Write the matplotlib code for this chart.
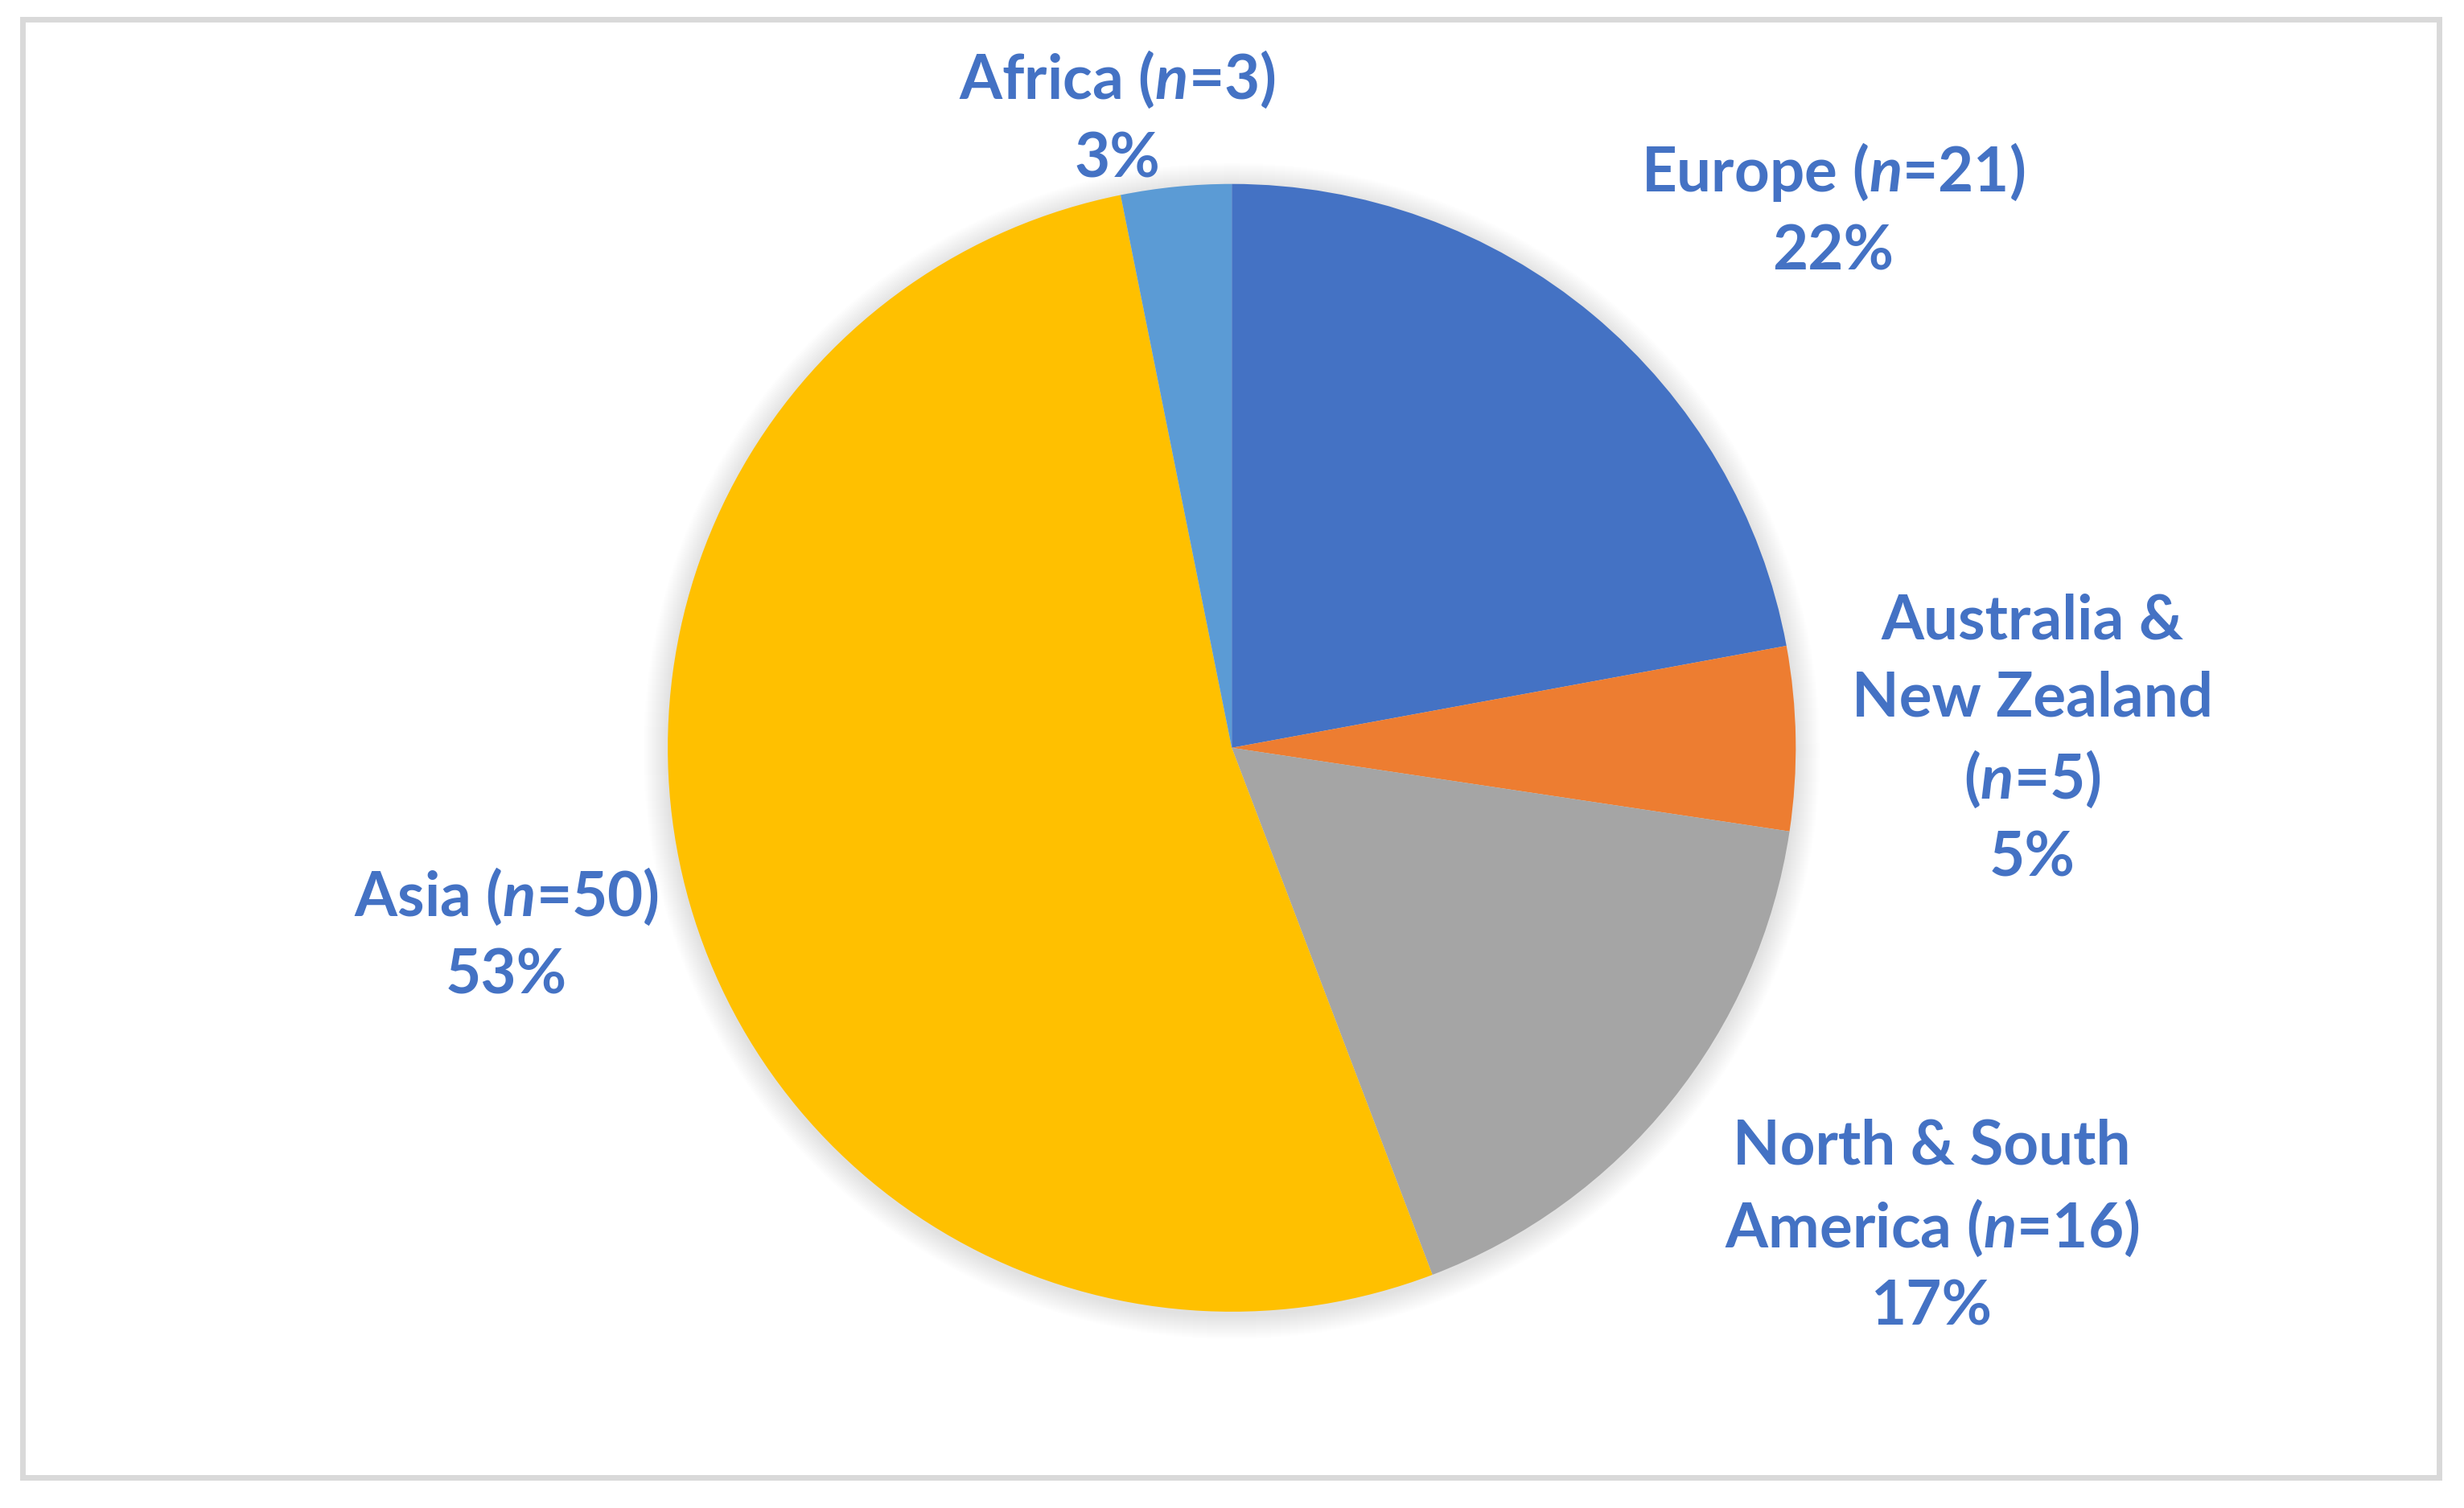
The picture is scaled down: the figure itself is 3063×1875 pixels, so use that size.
import numpy as np
import matplotlib
matplotlib.use("Agg")
import matplotlib.pyplot as plt
from matplotlib.patches import Circle, Rectangle

plt.rcParams['font.family'] = 'Lato'
plt.rcParams['mathtext.fontset'] = 'custom'
plt.rcParams['mathtext.it'] = 'Lato:italic:bold'
plt.rcParams['mathtext.rm'] = 'Lato:bold'

regions = ["Europe ", "Australia &\nNew Zealand\n", "North & South\nAmerica ", "Asia ", "Africa "]
counts = [21, 5, 16, 50, 3]
colors = ["#4472C4", "#ED7D31", "#A5A5A5", "#FFC000", "#5B9BD5"]
text_color = "#4472C4"

W, H = 3063, 1875
fig = plt.figure(figsize=((W + 0.4) / 100, (H + 0.4) / 100), dpi=100)
ax = fig.add_axes([0, 0, 1, 1])

# chart border
ax.add_patch(Rectangle((28, H - 1837), 3004, 1837 - 24, fill=False,
                       edgecolor="#D9D9D9", linewidth=5))

cx, cy, r = 1531, H - 930, 701

# soft shadow behind the pie
for k in range(30, 0, -1):
    ax.add_patch(Circle((cx, cy - 4), r + k, color="0.5", alpha=0.009, lw=0, zorder=1))

wedges, _ = ax.pie(counts, colors=colors, startangle=90, counterclock=False,
                   center=(cx, cy), radius=r, frame=True,
                   wedgeprops=dict(linewidth=0, zorder=2))
ax.set_xlim(0, W)
ax.set_ylim(0, H)
ax.axis('off')

total = sum(counts)
label_pos = [(2278, 262), (2526, 920), (2401, 1525), (629, 1162), (1389, 147)]
for name, n, (x, y) in zip(regions, counts, label_pos):
    pct = round(100 * n / total)
    txt = f"{name}($n$={n})\n{pct}%"
    ax.text(x, H - y, txt, ha='center', va='center', color=text_color,
            fontsize=55, fontweight='bold', linespacing=1.45, zorder=5)

fig.savefig("out.png", dpi=100, facecolor="white")
